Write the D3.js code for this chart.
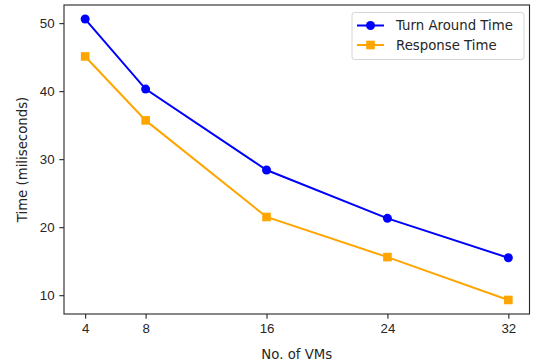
<!DOCTYPE html>
<html>
<head>
<meta charset="utf-8">
<script src="https://cdn.jsdelivr.net/npm/d3@7"></script>
<style>
  body { margin: 0; background: #fff; }
  svg { display: block; font-family: "DejaVu Sans", sans-serif; }
</style>
</head>
<body>
<div id="chart"></div>
<script>
var vms = [4, 8, 16, 24, 32];
var turnAround = [50.6, 40.3, 28.4, 21.3, 15.5];
var response = [45.1, 35.7, 21.5, 15.6, 9.3];
var xTicks = [4, 8, 16, 24, 32];
var yTicks = [10, 20, 30, 40, 50];

var series = [
    {name: "Turn Around Time", values: turnAround, color: "#0000ff", marker: "circle"},
    {name: "Response Time", values: response, color: "#ffa500", marker: "square"}
];

var w = 533, h = 363;
var margin = {top: 5, right: 3.5, bottom: 49, left: 64};
var width = w - margin.left - margin.right,
    height = h - margin.top - margin.bottom;

var svg = d3.select("#chart").append("svg")
    .attr("width", w)
    .attr("height", h);

var g = svg.append("g")
    .attr("transform", "translate(" + margin.left + "," + margin.top + ")");

// matplotlib style 5% margins
var xPad = (d3.max(vms) - d3.min(vms)) * 0.05;
var allY = turnAround.concat(response);
var yPad = (d3.max(allY) - d3.min(allY)) * 0.05;

var x = d3.scaleLinear()
    .domain([d3.min(vms) - xPad, d3.max(vms) + xPad])
    .range([0, width]);

var y = d3.scaleLinear()
    .domain([d3.min(allY) - yPad, d3.max(allY) + yPad])
    .range([height, 0]);

var xAxis = g.append("g")
    .attr("transform", "translate(0," + height + ")")
    .call(d3.axisBottom(x).tickValues(xTicks).tickSize(4.7).tickPadding(4.7));

var yAxis = g.append("g")
    .call(d3.axisLeft(y).tickValues(yTicks).tickSize(4.7).tickPadding(4.7));

[xAxis, yAxis].forEach(function (a) {
    a.select(".domain").remove();
    a.selectAll("text").style("font-size", "13.3px").style("fill", "#262626");
    a.selectAll("line").style("stroke", "#262626").style("stroke-width", 1.1);
});

g.append("rect")
    .attr("width", width)
    .attr("height", height)
    .style("fill", "none")
    .style("stroke", "#262626")
    .style("stroke-width", 1.1);

var line = d3.line()
    .x(function (d, i) { return x(vms[i]); })
    .y(function (d) { return y(d); });

series.forEach(function (s) {
    g.append("path")
        .datum(s.values)
        .attr("d", line)
        .style("fill", "none")
        .style("stroke", s.color)
        .style("stroke-width", 2);

    var pts = g.selectAll(".pt-" + s.marker)
        .data(s.values)
        .enter();
    if (s.marker === "circle") {
        pts.append("circle")
            .attr("cx", function (d, i) { return x(vms[i]); })
            .attr("cy", function (d) { return y(d); })
            .attr("r", 4.5)
            .style("fill", s.color);
    } else {
        pts.append("rect")
            .attr("x", function (d, i) { return x(vms[i]) - 4.3; })
            .attr("y", function (d) { return y(d) - 4.3; })
            .attr("width", 8.6)
            .attr("height", 8.6)
            .style("fill", s.color);
    }
});

// axis labels
svg.append("text")
    .attr("x", margin.left + width / 2)
    .attr("y", h - 4)
    .attr("text-anchor", "middle")
    .style("font-size", "13.3px")
    .style("fill", "#262626")
    .text("No. of VMs");

svg.append("text")
    .attr("transform", "translate(27," + (margin.top + height / 2) + ") rotate(-90)")
    .attr("text-anchor", "middle")
    .style("font-size", "13.3px")
    .style("fill", "#262626")
    .text("Time (miliseconds)");

// legend
var legend = g.append("g")
    .attr("transform", "translate(" + (width - 177.5) + ",7.5)");

legend.append("rect")
    .attr("width", 172)
    .attr("height", 47)
    .attr("rx", 2.5)
    .style("fill", "#fff")
    .style("fill-opacity", 0.8)
    .style("stroke", "#d6d6d6")
    .style("stroke-width", 1);

series.forEach(function (s, i) {
    var row = legend.append("g")
        .attr("transform", "translate(0," + (13 + i * 19.5) + ")");
    row.append("line")
        .attr("x1", 5).attr("x2", 32)
        .style("stroke", s.color)
        .style("stroke-width", 2);
    if (s.marker === "circle") {
        row.append("circle").attr("cx", 18.5).attr("r", 4.5).style("fill", s.color);
    } else {
        row.append("rect").attr("x", 14.2).attr("y", -4.3)
            .attr("width", 8.6).attr("height", 8.6).style("fill", s.color);
    }
    row.append("text")
        .attr("x", 44)
        .attr("dy", "0.35em")
        .style("font-size", "13.3px")
        .style("fill", "#262626")
        .text(s.name);
});
</script>
</body>
</html>
